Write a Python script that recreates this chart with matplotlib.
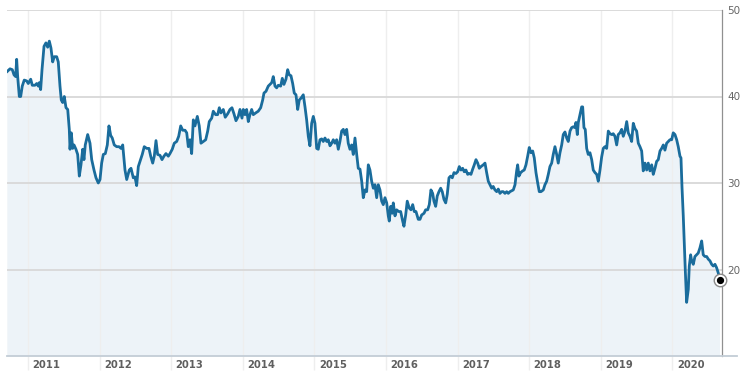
import matplotlib
matplotlib.use("Agg")
import matplotlib.pyplot as plt
import matplotlib.transforms as mtransforms
from matplotlib.lines import Line2D

# ---- data (decimal year, price) ----
dates = [
    2010.711, 2010.749, 2010.781, 2010.805, 2010.828, 2010.842, 2010.856, 2010.879, 2010.898, 2010.920,
    2010.948, 2010.982, 2011.004, 2011.038, 2011.060, 2011.098, 2011.122, 2011.144, 2011.158, 2011.177,
    2011.196, 2011.224, 2011.251, 2011.275, 2011.298, 2011.321, 2011.345, 2011.367, 2011.401, 2011.423,
    2011.447, 2011.465, 2011.485, 2011.507, 2011.531, 2011.555, 2011.577, 2011.587, 2011.605, 2011.624,
    2011.643, 2011.670, 2011.694, 2011.717, 2011.740, 2011.764, 2011.782, 2011.800, 2011.834, 2011.866,
    2011.890, 2011.922, 2011.950, 2011.982, 2012.006, 2012.029, 2012.052, 2012.080, 2012.108, 2012.131,
    2012.155, 2012.177, 2012.205, 2012.239, 2012.271, 2012.299, 2012.323, 2012.355, 2012.379, 2012.415,
    2012.439, 2012.471, 2012.494, 2012.518, 2012.541, 2012.564, 2012.596, 2012.624, 2012.658, 2012.690,
    2012.714, 2012.742, 2012.764, 2012.788, 2012.811, 2012.844, 2012.872, 2012.899, 2012.927, 2012.960,
    2012.983, 2013.015, 2013.043, 2013.077, 2013.105, 2013.133, 2013.161, 2013.193, 2013.217, 2013.239,
    2013.263, 2013.286, 2013.309, 2013.332, 2013.365, 2013.392, 2013.416, 2013.448, 2013.482, 2013.510,
    2013.532, 2013.566, 2013.588, 2013.621, 2013.649, 2013.672, 2013.695, 2013.728, 2013.755, 2013.789,
    2013.821, 2013.849, 2013.877, 2013.905, 2013.937, 2013.961, 2013.989, 2014.007, 2014.031, 2014.054,
    2014.077, 2014.100, 2014.124, 2014.147, 2014.180, 2014.216, 2014.250, 2014.278, 2014.296, 2014.324,
    2014.356, 2014.380, 2014.404, 2014.426, 2014.450, 2014.473, 2014.496, 2014.529, 2014.552, 2014.575,
    2014.603, 2014.627, 2014.649, 2014.673, 2014.697, 2014.719, 2014.743, 2014.767, 2014.789, 2014.813,
    2014.845, 2014.869, 2014.892, 2014.915, 2014.938, 2014.962, 2014.985, 2015.008, 2015.032, 2015.054,
    2015.078, 2015.102, 2015.124, 2015.148, 2015.172, 2015.194, 2015.218, 2015.242, 2015.264, 2015.288,
    2015.311, 2015.334, 2015.357, 2015.381, 2015.404, 2015.427, 2015.451, 2015.473, 2015.497, 2015.521,
    2015.543, 2015.567, 2015.591, 2015.613, 2015.637, 2015.661, 2015.683, 2015.707, 2015.730, 2015.753,
    2015.776, 2015.800, 2015.823, 2015.846, 2015.870, 2015.892, 2015.916, 2015.940, 2015.962, 2015.986,
    2016.010, 2016.032, 2016.046, 2016.066, 2016.088, 2016.102, 2016.126, 2016.149, 2016.177, 2016.205,
    2016.233, 2016.251, 2016.275, 2016.297, 2016.325, 2016.349, 2016.373, 2016.395, 2016.419, 2016.451,
    2016.475, 2016.498, 2016.531, 2016.554, 2016.582, 2016.605, 2016.628, 2016.652, 2016.670, 2016.694,
    2016.716, 2016.740, 2016.764, 2016.786, 2016.810, 2016.834, 2016.856, 2016.880, 2016.903, 2016.926,
    2016.950, 2016.977, 2017.001, 2017.024, 2017.047, 2017.071, 2017.093, 2017.117, 2017.141, 2017.163,
    2017.187, 2017.211, 2017.233, 2017.257, 2017.281, 2017.303, 2017.327, 2017.359, 2017.383, 2017.406,
    2017.429, 2017.452, 2017.476, 2017.498, 2017.522, 2017.546, 2017.568, 2017.592, 2017.616, 2017.638,
    2017.662, 2017.686, 2017.708, 2017.732, 2017.755, 2017.778, 2017.802, 2017.825, 2017.839, 2017.857,
    2017.881, 2017.909, 2017.931, 2017.955, 2017.979, 2018.001, 2018.025, 2018.049, 2018.071, 2018.095,
    2018.119, 2018.141, 2018.165, 2018.197, 2018.220, 2018.244, 2018.267, 2018.290, 2018.314, 2018.336,
    2018.360, 2018.384, 2018.406, 2018.430, 2018.454, 2018.476, 2018.500, 2018.524, 2018.546, 2018.570,
    2018.593, 2018.616, 2018.639, 2018.653, 2018.672, 2018.686, 2018.709, 2018.733, 2018.747, 2018.765,
    2018.783, 2018.803, 2018.825, 2018.849, 2018.873, 2018.895, 2018.919, 2018.943, 2018.965, 2018.989,
    2019.012, 2019.035, 2019.058, 2019.082, 2019.105, 2019.128, 2019.152, 2019.174, 2019.198, 2019.222,
    2019.244, 2019.268, 2019.292, 2019.314, 2019.338, 2019.362, 2019.384, 2019.408, 2019.431, 2019.454,
    2019.477, 2019.501, 2019.524, 2019.547, 2019.571, 2019.593, 2019.617, 2019.641, 2019.663, 2019.687,
    2019.711, 2019.733, 2019.757, 2019.780, 2019.803, 2019.827, 2019.850, 2019.873, 2019.896, 2019.920,
    2019.942, 2019.966, 2019.990, 2020.012, 2020.036, 2020.060, 2020.082, 2020.106, 2020.120, 2020.134,
    2020.152, 2020.166, 2020.180, 2020.199, 2020.222, 2020.236, 2020.255, 2020.269, 2020.292, 2020.315,
    2020.339, 2020.361, 2020.385, 2020.409, 2020.431, 2020.455, 2020.479, 2020.501, 2020.525, 2020.549,
    2020.571, 2020.595, 2020.618, 2020.641, 2020.665,
]
prices = [
    42.9, 43.2, 43.1, 42.5, 42.3, 44.3, 42.3, 40.0, 40.0, 41.2,
    41.9, 41.8, 41.5, 42.0, 41.3, 41.3, 41.5, 41.2, 41.6, 40.8,
    43.1, 45.8, 46.2, 45.7, 46.4, 45.6, 44.0, 44.6, 44.6, 44.0,
    41.2, 39.6, 39.3, 40.0, 38.7, 38.5, 36.2, 33.9, 35.8, 34.0,
    34.4, 33.9, 33.3, 30.8, 32.1, 33.9, 32.7, 34.4, 35.6, 34.6,
    32.7, 31.5, 30.6, 30.0, 30.4, 32.3, 33.3, 33.4, 34.4, 36.6,
    35.5, 35.2, 34.4, 34.2, 34.2, 34.0, 34.4, 31.5, 30.4, 31.5,
    31.7, 30.6, 30.7, 29.7, 31.9, 32.5, 33.3, 34.2, 34.0, 34.0,
    33.1, 32.3, 33.1, 34.9, 33.3, 33.2, 32.7, 33.1, 33.4, 33.1,
    33.4, 33.9, 34.6, 34.8, 35.4, 36.6, 36.1, 36.1, 35.8, 34.2,
    35.0, 33.4, 37.3, 36.6, 37.7, 36.6, 34.6, 34.8, 35.0, 36.0,
    37.1, 37.5, 38.3, 37.9, 37.9, 38.7, 38.1, 38.5, 37.6, 38.0,
    38.5, 38.7, 38.0, 37.2, 37.7, 38.5, 37.5, 38.5, 37.9, 38.5,
    37.1, 37.9, 38.5, 37.9, 38.1, 38.3, 38.7, 39.6, 40.4, 40.6,
    41.2, 41.4, 41.6, 42.3, 41.2, 41.0, 41.3, 41.2, 42.1, 41.4,
    42.0, 43.1, 42.5, 42.4, 41.5, 40.4, 40.2, 38.5, 39.6, 39.8,
    40.2, 38.8, 37.3, 35.4, 34.3, 36.9, 37.7, 36.9, 34.0, 33.9,
    35.0, 35.1, 34.8, 35.2, 34.8, 35.0, 34.3, 34.6, 35.0, 34.6,
    35.0, 33.9, 34.8, 36.0, 36.2, 35.6, 36.2, 34.6, 33.9, 34.4,
    33.3, 35.2, 33.3, 31.7, 31.6, 30.2, 28.3, 29.2, 29.0, 32.1,
    31.5, 30.2, 29.4, 29.8, 28.3, 29.8, 29.2, 27.9, 27.5, 28.3,
    27.7, 26.2, 25.6, 27.3, 26.5, 27.7, 26.2, 26.9, 26.7, 26.7,
    25.6, 25.0, 26.3, 27.9, 27.1, 26.9, 27.5, 26.7, 26.7, 25.8,
    25.8, 26.3, 26.5, 26.9, 26.9, 27.5, 29.2, 28.8, 27.9, 27.3,
    28.5, 29.0, 29.4, 29.0, 28.1, 27.7, 28.7, 30.6, 30.8, 30.6,
    31.2, 31.1, 31.3, 31.9, 31.5, 31.7, 31.3, 31.5, 31.0, 31.1,
    31.0, 31.6, 32.1, 32.7, 32.3, 31.7, 31.9, 32.1, 32.3, 31.2,
    30.2, 29.8, 29.4, 29.6, 29.2, 29.0, 29.3, 28.8, 29.0, 29.0,
    28.8, 29.0, 28.8, 29.0, 29.1, 29.2, 29.8, 31.4, 32.1, 30.8,
    31.2, 31.4, 31.5, 32.1, 33.1, 34.1, 33.5, 33.7, 32.9, 31.2,
    30.0, 29.0, 29.0, 29.2, 29.8, 30.2, 31.0, 31.9, 32.3, 33.3,
    34.2, 33.3, 32.3, 33.5, 34.4, 35.6, 35.9, 35.2, 34.8, 36.0,
    36.4, 36.5, 36.4, 37.0, 35.6, 37.0, 37.9, 38.8, 38.8, 36.4,
    36.2, 34.0, 33.3, 33.5, 32.7, 31.5, 31.2, 31.0, 30.2, 31.5,
    33.0, 34.0, 34.2, 34.0, 36.0, 35.7, 35.6, 35.7, 35.4, 34.4,
    35.6, 35.8, 36.2, 35.4, 36.0, 37.1, 35.8, 35.4, 34.8, 36.9,
    36.3, 36.0, 34.6, 34.2, 33.7, 31.4, 32.3, 31.5, 32.3, 31.4,
    32.1, 31.0, 31.7, 32.5, 32.7, 33.7, 34.0, 34.4, 33.8, 34.6,
    34.8, 35.0, 35.0, 35.8, 35.6, 35.0, 34.2, 33.1, 32.9, 29.6,
    26.2, 23.1, 20.0, 16.2, 17.7, 20.4, 21.7, 21.0, 20.6, 21.5,
    21.7, 21.9, 22.5, 23.3, 21.7, 21.5, 21.5, 21.2, 21.0, 20.6,
    20.4, 20.6, 20.2, 19.6, 18.8,
]
year_ticks = [2011, 2012, 2013, 2014, 2015, 2016, 2017, 2018, 2019, 2020]
year_labels = [str(y) for y in year_ticks]
value_ticks = [20, 30, 40, 50]

line_color = "#1a6c9c"
fill_color = "#edf3f8"

fig = plt.figure(figsize=(7.44, 3.79), dpi=100)
ax = fig.add_axes([7 / 744, 23 / 379, 714.5 / 744, 346 / 379])

ax.fill_between(dates, prices, 0, color=fill_color, lw=0, zorder=1)
ax.plot(dates, prices, color=line_color, lw=2.0, zorder=3, solid_joinstyle="round")

# end marker
ax.plot(dates[-1], prices[-1], marker="o", ms=9, mfc="white", mec="#8a8a8a",
        mew=1.0, zorder=5, clip_on=False)
ax.plot(dates[-1], prices[-1], marker="o", ms=4.2, mfc="black", mec="black",
        zorder=6, clip_on=False)

ax.set_xlim(2010.707, 2020.686)
ax.set_ylim(10, 50)

ax.set_axisbelow("line")
ax.set_yticks(value_ticks)
ax.yaxis.tick_right()
ax.grid(axis="y", color="#d8d8d8", lw=1.3)
ax.set_xticks(year_ticks)
ax.grid(axis="x", color="#eeeeee", lw=1.0)

ax.tick_params(axis="y", right=True, left=False, length=0, width=0.9,
               color="#999999", labelsize=7.5, labelcolor="#666666", pad=4)
ax.tick_params(axis="x", bottom=True, length=10, width=1.0, color="#eeeeee",
               labelbottom=False)

for s in ["top", "left"]:
    ax.spines[s].set_visible(False)
ax.spines["right"].set_color("#909090")
ax.spines["right"].set_linewidth(0.9)
ax.spines["bottom"].set_visible(False)

# bottom axis line extending a little beyond the right spine
ax.add_line(Line2D([0, 1.0217], [0, 0], transform=ax.transAxes, color="#c3cdd6",
                   lw=1.3, clip_on=False, zorder=4))

# year labels, left-aligned just right of each gridline
trans = mtransforms.blended_transform_factory(ax.transData, ax.transAxes)
trans = mtransforms.offset_copy(trans, fig=fig, x=4.5, y=-9, units="dots")
for yv, lab in zip(year_ticks, year_labels):
    ax.text(yv, 0, lab, transform=trans, ha="left", va="center", fontsize=7.2,
            fontweight="bold", color="#5f5f5f")

fig.savefig("out.png", dpi=100, facecolor="white")
